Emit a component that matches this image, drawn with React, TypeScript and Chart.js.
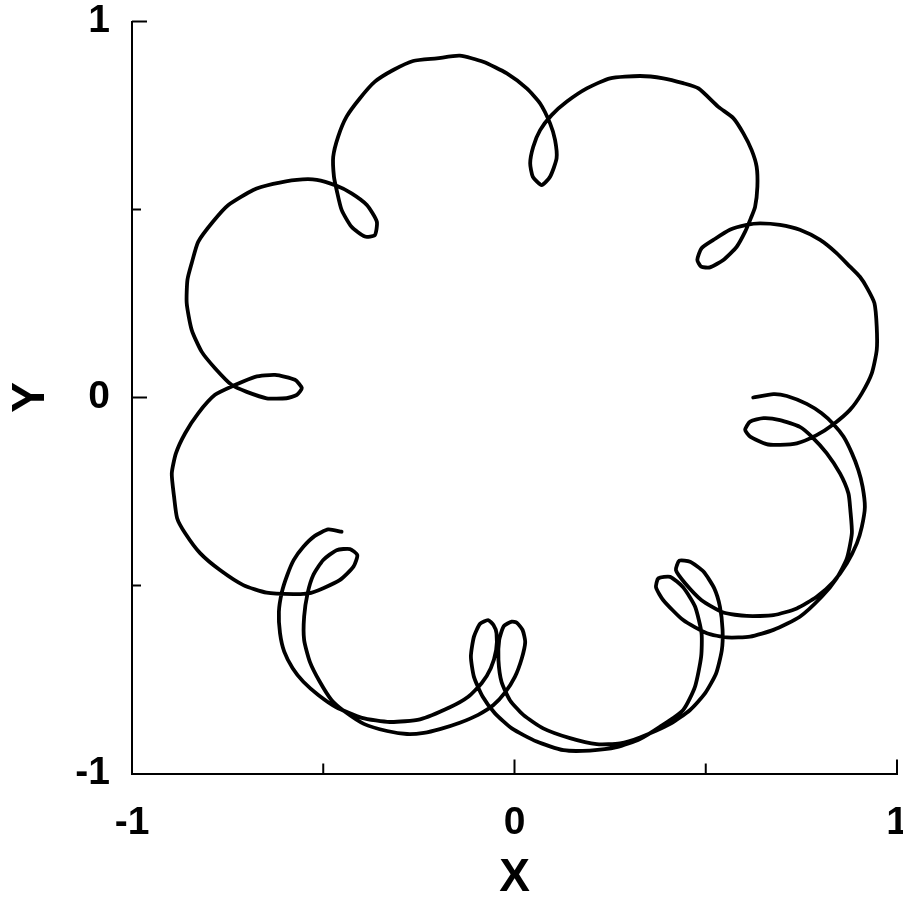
import { useEffect, useRef } from "react";
import { Chart, registerables } from "chart.js";

Chart.register(...registerables);

// Trajectory of the point, traced leg by leg (each leg ends at a small loop).
type Pt = [number, number];

const leg01: Pt[] = [
  [-0.452, -0.357], [-0.487, -0.351], [-0.522, -0.368], [-0.552, -0.397], [-0.577, -0.432],
  [-0.594, -0.472], [-0.608, -0.517], [-0.616, -0.570], [-0.613, -0.627], [-0.602, -0.676],
  [-0.580, -0.720], [-0.552, -0.756], [-0.513, -0.791], [-0.467, -0.823], [-0.399, -0.852],
  [-0.326, -0.863], [-0.247, -0.856], [-0.169, -0.824], [-0.121, -0.796], [-0.086, -0.760],
  [-0.062, -0.720], [-0.048, -0.672], [-0.047, -0.627], [-0.055, -0.605], [-0.069, -0.592],
];
const leg02: Pt[] = [
  [-0.090, -0.602], [-0.106, -0.636], [-0.114, -0.689], [-0.106, -0.743], [-0.083, -0.796],
  [-0.051, -0.840], [-0.007, -0.880], [0.058, -0.915], [0.128, -0.938], [0.197, -0.939],
  [0.267, -0.930], [0.328, -0.908], [0.380, -0.876], [0.441, -0.831], [0.472, -0.769],
  [0.488, -0.689], [0.489, -0.627], [0.472, -0.556], [0.441, -0.505], [0.407, -0.477],
  [0.376, -0.481],
];
const leg03: Pt[] = [
  [0.370, -0.505], [0.389, -0.539], [0.441, -0.592], [0.503, -0.627], [0.555, -0.638],
  [0.616, -0.636], [0.677, -0.618], [0.746, -0.583], [0.803, -0.530], [0.842, -0.481],
  [0.869, -0.428], [0.882, -0.361], [0.878, -0.299], [0.873, -0.255], [0.851, -0.202],
  [0.816, -0.148], [0.777, -0.104], [0.746, -0.078], [0.694, -0.060], [0.651, -0.055],
  [0.616, -0.064], [0.603, -0.086],
];
const leg04: Pt[] = [
  [0.616, -0.104], [0.659, -0.124], [0.694, -0.126], [0.738, -0.122], [0.790, -0.100],
  [0.834, -0.071], [0.877, -0.033], [0.908, 0.011], [0.934, 0.064], [0.947, 0.126],
  [0.947, 0.188], [0.941, 0.251], [0.922, 0.291], [0.903, 0.321], [0.877, 0.348],
  [0.842, 0.384], [0.799, 0.419], [0.746, 0.446], [0.694, 0.459], [0.642, 0.463],
  [0.607, 0.459], [0.563, 0.446], [0.520, 0.419], [0.489, 0.397], [0.478, 0.366],
  [0.488, 0.348],
];
const leg05: Pt[] = [
  [0.511, 0.346], [0.546, 0.366], [0.581, 0.401], [0.603, 0.441], [0.618, 0.477],
  [0.629, 0.507], [0.635, 0.561], [0.633, 0.614], [0.620, 0.658], [0.598, 0.703],
  [0.572, 0.743], [0.533, 0.773], [0.481, 0.822], [0.441, 0.836], [0.389, 0.849],
  [0.328, 0.855], [0.250, 0.849], [0.189, 0.822], [0.137, 0.787], [0.097, 0.751],
  [0.067, 0.711], [0.049, 0.667], [0.041, 0.623], [0.048, 0.587], [0.071, 0.565],
];
const leg06: Pt[] = [
  [0.093, 0.587], [0.110, 0.636], [0.106, 0.685], [0.093, 0.729], [0.067, 0.782],
  [0.032, 0.822], [-0.020, 0.862], [-0.082, 0.893], [-0.143, 0.909], [-0.203, 0.902],
  [-0.265, 0.895], [-0.317, 0.871], [-0.365, 0.840], [-0.404, 0.796], [-0.439, 0.747],
  [-0.461, 0.694], [-0.474, 0.640], [-0.472, 0.587], [-0.465, 0.552], [-0.452, 0.499],
  [-0.426, 0.454], [-0.391, 0.428], [-0.365, 0.432],
];
const leg07: Pt[] = [
  [-0.360, 0.468], [-0.386, 0.512], [-0.426, 0.543], [-0.465, 0.563], [-0.517, 0.579],
  [-0.569, 0.579], [-0.631, 0.568], [-0.683, 0.552], [-0.748, 0.512], [-0.788, 0.468],
  [-0.827, 0.414], [-0.844, 0.357], [-0.855, 0.313], [-0.857, 0.251], [-0.844, 0.180],
  [-0.818, 0.122], [-0.783, 0.078], [-0.739, 0.033], [-0.700, 0.015], [-0.648, -0.002],
  [-0.596, -0.002], [-0.569, 0.007], [-0.556, 0.025],
];
const leg08: Pt[] = [
  [-0.574, 0.047], [-0.626, 0.060], [-0.678, 0.055], [-0.731, 0.033], [-0.783, 0.007],
  [-0.827, -0.042], [-0.861, -0.095], [-0.885, -0.148], [-0.896, -0.202], [-0.890, -0.264],
  [-0.882, -0.321], [-0.861, -0.361], [-0.822, -0.414], [-0.770, -0.459], [-0.709, -0.499],
  [-0.648, -0.519], [-0.578, -0.523], [-0.539, -0.521], [-0.500, -0.507], [-0.456, -0.485],
  [-0.421, -0.450], [-0.411, -0.419],
];
const leg09: Pt[] = [
  [-0.430, -0.403], [-0.465, -0.406], [-0.500, -0.432], [-0.526, -0.472], [-0.541, -0.521],
  [-0.550, -0.583], [-0.550, -0.645], [-0.535, -0.703], [-0.509, -0.756], [-0.478, -0.805],
  [-0.443, -0.836], [-0.394, -0.868], [-0.333, -0.887], [-0.281, -0.895], [-0.237, -0.892],
  [-0.195, -0.882], [-0.143, -0.865], [-0.095, -0.844], [-0.055, -0.818], [-0.025, -0.785],
  [0.001, -0.743], [0.019, -0.694], [0.028, -0.650], [0.021, -0.618], [0.006, -0.599],
  [-0.007, -0.596],
];
const leg10: Pt[] = [
  [-0.028, -0.608], [-0.040, -0.645], [-0.042, -0.698], [-0.034, -0.756], [-0.012, -0.805],
  [0.023, -0.844], [0.075, -0.880], [0.145, -0.906], [0.215, -0.922], [0.276, -0.920],
  [0.328, -0.904], [0.407, -0.868], [0.459, -0.831], [0.498, -0.787], [0.527, -0.734],
  [0.542, -0.672], [0.544, -0.618], [0.537, -0.556], [0.522, -0.507], [0.494, -0.463],
  [0.459, -0.437], [0.431, -0.434],
];
const leg11: Pt[] = [
  [0.422, -0.459], [0.446, -0.494], [0.489, -0.539], [0.546, -0.572], [0.607, -0.581],
  [0.677, -0.579], [0.738, -0.561], [0.790, -0.530], [0.834, -0.490], [0.869, -0.441],
  [0.895, -0.388], [0.908, -0.344], [0.916, -0.291], [0.910, -0.237], [0.899, -0.193],
  [0.882, -0.148], [0.860, -0.104], [0.834, -0.071], [0.803, -0.042], [0.764, -0.017],
  [0.712, 0.004], [0.677, 0.009], [0.624, 0.000],
];

const legs: Pt[][] = [leg01, leg02, leg03, leg04, leg05, leg06, leg07, leg08, leg09, leg10, leg11];

// Axis ticks: every 0.5, labels only on the whole numbers.
const xTickValues = [-0.5, 0, 0.5, 1];
const yTickValues = [1, 0.5, 0, -0.5];
const labeledValues = [-1, 0, 1];

const FONT = "'Liberation Sans', Arial, Helvetica, sans-serif";

const innerTicks = {
  id: "innerTicks",
  afterDraw(chart: any) {
    const { ctx, chartArea, scales } = chart;
    ctx.save();
    ctx.strokeStyle = "#000";
    ctx.lineWidth = 2;
    for (const v of yTickValues) {
      const py = scales.y.getPixelForValue(v);
      const len = Number.isInteger(v) ? 15 : 9;
      ctx.beginPath();
      ctx.moveTo(chartArea.left, py);
      ctx.lineTo(chartArea.left + len, py);
      ctx.stroke();
    }
    for (const v of xTickValues) {
      const px = scales.x.getPixelForValue(v);
      const len = Number.isInteger(v) ? 14 : 10;
      ctx.beginPath();
      ctx.moveTo(px, chartArea.bottom);
      ctx.lineTo(px, chartArea.bottom - len);
      ctx.stroke();
    }
    ctx.restore();
  },
};

export default function App() {
  const canvasRef = useRef<HTMLCanvasElement | null>(null);

  useEffect(() => {
    const canvas = canvasRef.current;
    if (!canvas) return;
    const points = legs.flat().map(([x, y]) => ({ x, y }));
    const tickFont = { family: FONT, size: 39, weight: "bold" as const, lineHeight: 1 };
    const titleFont = { family: FONT, size: 46, weight: "bold" as const, lineHeight: 1 };
    const label = (v: any) => (labeledValues.includes(Number(v)) ? String(v) : "");

    const chart = new Chart(canvas, {
      type: "scatter",
      data: {
        datasets: [
          {
            data: points,
            showLine: true,
            borderColor: "#000",
            borderWidth: 3.8,
            borderJoinStyle: "round",
            borderCapStyle: "round",
            pointRadius: 0,
            tension: 0.2,
          },
        ],
      },
      options: {
        animation: false,
        responsive: false,
        devicePixelRatio: 1,
        layout: { padding: { left: 0, top: 21.5, right: 6, bottom: 0 } },
        plugins: { legend: { display: false }, tooltip: { enabled: false } },
        scales: {
          x: {
            type: "linear",
            min: -1,
            max: 1,
            afterFit(s: any) {
              s.height = 903 - 773.5;
              s.paddingLeft = 0;
              s.paddingRight = 0;
            },
            grid: { display: false, drawTicks: false },
            border: { display: true, color: "#000", width: 2 },
            ticks: {
              stepSize: 0.5,
              autoSkip: false,
              maxRotation: 0,
              callback: label,
              font: tickFont,
              color: "#000",
              padding: 30,
            },
            title: { display: true, text: "X", font: titleFont, color: "#000", padding: { top: 0, bottom: 2 } },
          },
          y: {
            type: "linear",
            min: -1,
            max: 1,
            afterFit(s: any) {
              s.width = 132;
              s.paddingTop = 0;
              s.paddingBottom = 0;
            },
            grid: { display: false, drawTicks: false },
            border: { display: true, color: "#000", width: 2 },
            ticks: {
              stepSize: 0.5,
              autoSkip: false,
              callback: label,
              font: tickFont,
              color: "#000",
              padding: 22,
            },
            title: { display: true, text: "Y", font: titleFont, color: "#000", padding: { top: 8, bottom: 0 } },
          },
        },
      },
      plugins: [innerTicks],
    });
    return () => chart.destroy();
  }, []);

  return (
    <div style={{ position: "absolute", left: 0, top: 0, width: 903, height: 903, background: "#fff" }}>
      <canvas ref={canvasRef} width={903} height={903} style={{ display: "block" }} />
    </div>
  );
}
